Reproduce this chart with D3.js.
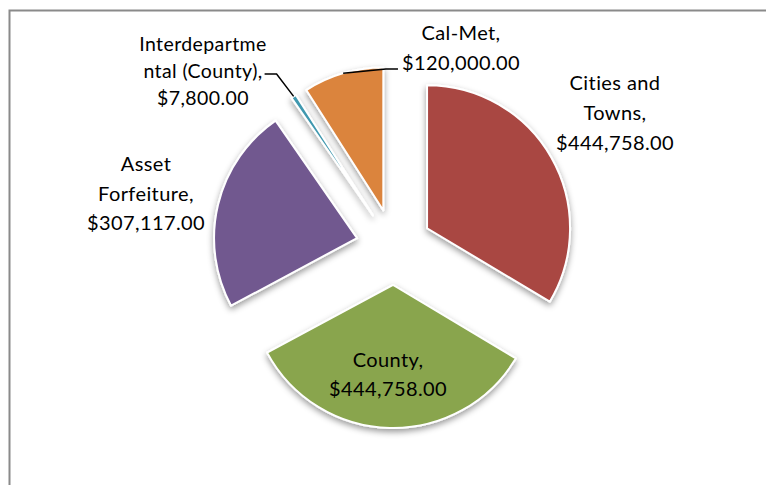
<!DOCTYPE html>
<html>
<head>
<meta charset="utf-8">
<script src="https://cdn.jsdelivr.net/npm/d3@7"></script>
<style>
  body { margin: 0; background: #fff; }
  svg { display: block; }
</style>
</head>
<body>
<div id="chart"></div>
<script>
// data, slices run clockwise from 12 o'clock
var categories = ["Cities and Towns", "County", "Asset Forfeiture", "Interdepartmental (County)", "Cal-Met"];
var amounts = [444758, 444758, 307117, 7800, 120000];
// how the category names wrap in the data labels
var nameLines = [["Cities and", "Towns,"], ["County,"], ["Asset", "Forfeiture,"], ["Interdepartme", "ntal (County),"], ["Cal-Met,"]];
var colors = ["#A94643", "#89A54E", "#71588F", "#4198AF", "#DB843D"];

var W = 766, H = 485,
    cx = 394, cy = 247,
    radius = 143,
    explode = 38;

// label placement: centre x, first line y, line height
var labelAt = [
    {x: 615, y: 82, lh: 30, size: 20},
    {x: 388, y: 359, lh: 29, size: 20},
    {x: 146, y: 163, lh: 29.5, size: 20},
    {x: 203, y: 43, lh: 27, size: 19.5},
    {x: 461, y: 32, lh: 30, size: 20}
];
// which labels get a leader line, and on which side of the label it joins
var leader = [null, null, null, "right", "left"];

var fmt = d3.format("$,.2f");

var svg = d3.select("#chart").append("svg")
    .attr("width", W).attr("height", H);

var defs = svg.append("defs");
var filter = defs.append("filter").attr("id", "shadow")
    .attr("x", "-20%").attr("y", "-20%").attr("width", "140%").attr("height", "140%");
filter.append("feDropShadow")
    .attr("dx", 0).attr("dy", 3)
    .attr("stdDeviation", 3)
    .attr("flood-color", "#000")
    .attr("flood-opacity", 0.4);

// chart area frame
svg.append("rect")
    .attr("x", 9.5).attr("y", 10.5)
    .attr("width", 800).attr("height", 500)
    .attr("fill", "none")
    .attr("stroke", "#8a8a8a")
    .attr("stroke-width", 2);

var pie = d3.pie().sort(null).value(function(d) { return d; });
var arcs = pie(amounts);

var arc = d3.arc().innerRadius(0).outerRadius(radius);

function offset(d, dist) {
    var a = (d.startAngle + d.endAngle) / 2;
    return [Math.sin(a) * dist, -Math.cos(a) * dist];
}

var g = svg.append("g")
    .attr("transform", "translate(" + cx + "," + cy + ")");

g.selectAll(".slice")
    .data(arcs)
    .enter().append("path")
    .attr("class", "slice")
    .attr("transform", function(d) { var o = offset(d, explode); return "translate(" + o[0] + "," + o[1] + ")"; })
    .attr("d", arc)
    .attr("fill", function(d, i) { return colors[i]; })
    .attr("stroke", "#fff")
    .attr("stroke-width", 2)
    .attr("stroke-linejoin", "round")
    .style("filter", "url(#shadow)");

// data labels
var labels = svg.selectAll(".label")
    .data(arcs)
    .enter().append("text")
    .attr("class", "label")
    .attr("text-anchor", "middle")
    .attr("dominant-baseline", "central")
    .style("font-family", "Lato, 'Open Sans', sans-serif")
    .style("font-size", function(d, i) { return labelAt[i].size + "px"; })
    .style("letter-spacing", "0.4px")
    .attr("fill", "#000");

labels.each(function(d, i) {
    var lines = nameLines[i].concat([fmt(amounts[i])]);
    var t = d3.select(this);
    lines.forEach(function(s, k) {
        t.append("tspan")
            .attr("x", labelAt[i].x)
            .attr("y", labelAt[i].y + k * labelAt[i].lh)
            .text(s);
    });
});

// leader lines for the two small slices
arcs.forEach(function(d, i) {
    if (!leader[i]) return;
    var o = offset(d, explode + radius);
    var sx = cx + o[0], sy = cy + o[1];
    var tspans = labels.filter(function(e, j) { return j === i; }).selectAll("tspan").nodes();
    var pts;
    if (leader[i] === "left") {
        // joins left of the value line, just below its middle
        var last = tspans[tspans.length - 1];
        var w = last.getComputedTextLength();
        var ly = labelAt[i].y + (tspans.length - 1) * labelAt[i].lh + 7;
        var lx = labelAt[i].x - w / 2 - 4;
        pts = [[sx, sy], [lx - 12, ly], [lx, ly]];
    } else {
        // joins right of the second name line
        var mid = tspans[1];
        var w2 = mid.getComputedTextLength();
        var ly2 = labelAt[i].y + labelAt[i].lh + 4;
        var lx2 = labelAt[i].x + w2 / 2 + 2;
        pts = [[sx, sy], [lx2 + 12, ly2], [lx2, ly2]];
    }
    svg.append("path")
        .attr("d", d3.line()(pts))
        .attr("fill", "none")
        .attr("stroke", "#000")
        .attr("stroke-width", 1.5);
});
</script>
</body>
</html>
